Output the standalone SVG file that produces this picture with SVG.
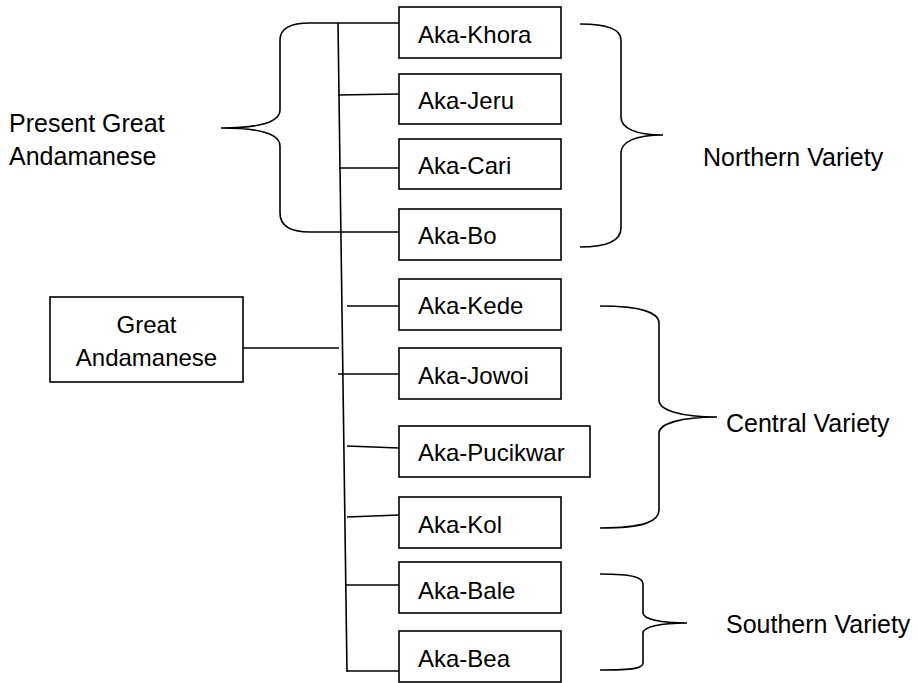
<svg xmlns="http://www.w3.org/2000/svg" width="919" height="683" viewBox="0 0 919 683">
<style>
.box{fill:#fff;stroke:#000;stroke-width:1.6}
.ln{fill:none;stroke:#000;stroke-width:1.6}
text{font-family:"Liberation Sans",Arial,sans-serif;font-size:24px;fill:#000}
.lbl{font-size:25px}
</style>
<rect width="919" height="683" fill="#fff"/>
<g id="connectors" class="ln">
<path d="M338,23 L347,672"/>
<path d="M338,23 L399,23"/>
<path d="M338,95 L399,94"/>
<path d="M339,168 L399,168"/>
<path d="M340,232 L399,232"/>
<path d="M347,306 L399,306"/>
<path d="M243,348 L339,348"/>
<path d="M338,374 L399,374"/>
<path d="M347,446 L399,448"/>
<path d="M347,517 L399,515"/>
<path d="M346,585 L399,585"/>
<path d="M347,671 L399,671"/>
</g>
<g id="brace-present" class="ln">
<path d="M338,23 L310,23 C290,23 280,28 280,40 L280,110 C280,122 260,128 221,128 C260,128 280,134 280,146 L280,213 C280,226 290,232 310,232 L340,232"/>
</g>
<g id="brace-northern" class="ln">
<path d="M580,24 C610,24 621,30 621,40 L621,117 C621,128 635,135 663,135 C635,135 621,142 621,153 L621,228 C621,240 610,247 580,247"/>
</g>
<g id="brace-central" class="ln">
<path d="M600,306 C645,306 659,314 659,323 L659,400 C659,410 680,417 717,417 C680,417 659,424 659,433 L659,510 C659,521 645,528 600,528"/>
</g>
<g id="brace-southern" class="ln">
<path d="M600,574 C635,574 643,578 643,584 L643,613 C643,619 660,623 687,623 C660,623 643,627 643,633 L643,663 C643,668 635,670 600,670"/>
</g>
<g id="present-label">
<text class="lbl" x="9" y="132">Present Great</text>
<text class="lbl" x="9" y="165">Andamanese</text>
</g>
<g id="great-andamanese">
<rect class="box" x="50" y="297" width="193" height="85"/>
<text x="146.5" y="333" text-anchor="middle">Great</text>
<text x="146.5" y="366" text-anchor="middle">Andamanese</text>
</g>
<g id="aka-khora"><rect class="box" x="399" y="7" width="162" height="51"/><text x="418" y="43">Aka-Khora</text></g>
<g id="aka-jeru"><rect class="box" x="399" y="74" width="162" height="50"/><text x="418" y="109">Aka-Jeru</text></g>
<g id="aka-cari"><rect class="box" x="399" y="139" width="162" height="50"/><text x="418" y="174">Aka-Cari</text></g>
<g id="aka-bo"><rect class="box" x="399" y="209" width="162" height="51"/><text x="418" y="244">Aka-Bo</text></g>
<g id="aka-kede"><rect class="box" x="399" y="279" width="162" height="51"/><text x="418" y="314">Aka-Kede</text></g>
<g id="aka-jowoi"><rect class="box" x="399" y="348" width="162" height="51"/><text x="418" y="384">Aka-Jowoi</text></g>
<g id="aka-pucikwar"><rect class="box" x="399" y="426" width="191" height="51"/><text x="418" y="461">Aka-Pucikwar</text></g>
<g id="aka-kol"><rect class="box" x="399" y="497" width="162" height="51"/><text x="418" y="533">Aka-Kol</text></g>
<g id="aka-bale"><rect class="box" x="399" y="562" width="162" height="51"/><text x="418" y="599">Aka-Bale</text></g>
<g id="aka-bea"><rect class="box" x="399" y="631" width="162" height="51"/><text x="418" y="667">Aka-Bea</text></g>
<g id="northern-label"><text class="lbl" x="703" y="166">Northern Variety</text></g>
<g id="central-label"><text class="lbl" x="726" y="432">Central Variety</text></g>
<g id="southern-label"><text class="lbl" x="726" y="633">Southern Variety</text></g>
</svg>
